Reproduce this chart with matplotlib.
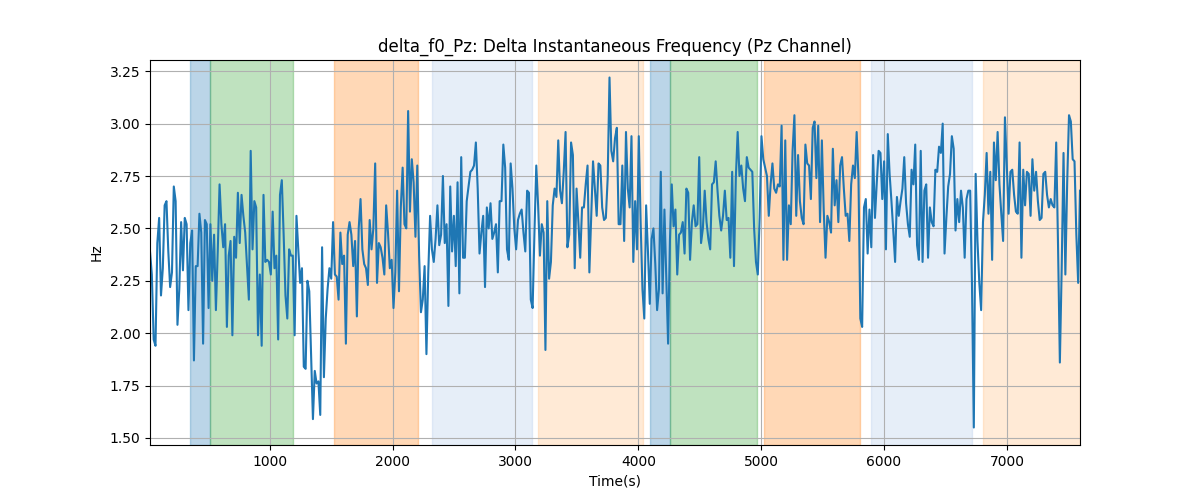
import matplotlib.pyplot as plt
import numpy as np

# sampling window of the recording (s)
T_START = 25
T_END = 7595

# delta f0 on Pz, in time order
delta_f0 = [
    # ~25 - 980
    2.39, 2.28, 1.97, 1.94, 2.43, 2.55, 2.18, 2.31, 2.61, 2.63, 2.39, 2.22, 2.29, 2.70, 2.63, 2.04,
    2.21, 2.53, 2.30, 2.55, 2.52, 2.11, 2.43, 2.49, 1.87, 2.32, 2.32, 2.57, 2.48, 1.95, 2.54, 2.52,
    2.12, 2.52, 2.25, 2.47, 2.11, 2.39, 2.71, 2.52, 2.41, 2.52, 2.03, 2.37, 2.44, 1.99, 2.46, 2.36,
    2.67, 2.43, 2.66, 2.56, 2.48, 2.32, 2.16, 2.87, 2.40, 2.63, 2.60, 1.99, 2.28, 1.94, 2.66, 2.34,
    # ~980 - 1960
    2.35, 2.34, 2.28, 2.58, 2.31, 2.37, 1.97, 2.66, 2.73, 2.47, 2.18, 2.07, 2.40, 2.37, 2.37, 1.99,
    2.56, 2.40, 2.24, 2.31, 1.84, 1.83, 2.25, 2.20, 1.89, 1.59, 1.82, 1.76, 1.77, 1.61, 2.41, 1.79,
    2.07, 2.21, 2.31, 2.26, 2.53, 2.28, 2.27, 2.16, 2.48, 2.33, 2.37, 1.95, 2.47, 2.53, 2.47, 2.32,
    2.44, 2.08, 2.50, 2.64, 2.40, 2.33, 2.31, 2.23, 2.54, 2.40, 2.50, 2.81, 2.24, 2.43, 2.41, 2.36,
    2.28,
    # ~1960 - 2940
    2.61, 2.48, 2.31, 2.35, 2.12, 2.29, 2.68, 2.20, 2.60, 2.79, 2.52, 2.50, 3.06, 2.58, 2.83, 2.72,
    2.46, 2.80, 2.37, 2.10, 2.16, 2.32, 1.90, 2.29, 2.56, 2.40, 2.34, 2.45, 2.61, 2.42, 2.47, 2.75,
    2.43, 2.52, 2.13, 2.70, 2.39, 2.56, 2.32, 2.72, 2.19, 2.84, 2.36, 2.36, 2.63, 2.70, 2.77, 2.78,
    2.80, 2.91, 2.69, 2.38, 2.48, 2.56, 2.22, 2.60, 2.50, 2.62, 2.45, 2.48, 2.52, 2.29, 2.63, 2.63,
    2.90,
    # ~2940 - 3900
    2.79, 2.40, 2.35, 2.81, 2.69, 2.50, 2.40, 2.54, 2.57, 2.59, 2.48, 2.39, 2.68, 2.67, 2.16, 2.12,
    2.48, 2.80, 2.61, 2.37, 2.52, 2.48, 1.92, 2.63, 2.26, 2.34, 2.61, 2.69, 2.65, 2.92, 2.68, 2.62,
    2.77, 2.96, 2.41, 2.47, 2.91, 2.85, 2.31, 2.69, 2.53, 2.36, 2.60, 2.60, 2.71, 2.80, 2.29, 2.56,
    2.82, 2.69, 2.56, 2.81, 2.80, 2.60, 2.54, 2.55, 2.74, 3.22, 2.87, 2.82, 2.93, 2.98, 2.52, 2.52,
    # ~3900 - 4870
    2.80, 2.44, 2.96, 2.69, 2.60, 2.94, 2.34, 2.63, 2.40, 2.94, 2.53, 2.21, 2.07, 2.61, 2.39, 2.14,
    2.45, 2.50, 2.33, 2.11, 2.21, 2.77, 2.19, 2.59, 2.27, 1.95, 2.44, 2.71, 2.51, 2.59, 2.28, 2.47,
    2.48, 2.53, 2.38, 2.69, 2.67, 2.35, 2.53, 2.61, 2.51, 2.52, 2.84, 2.43, 2.50, 2.68, 2.53, 2.45,
    2.40, 2.71, 2.72, 2.82, 2.68, 2.56, 2.49, 2.56, 2.68, 2.54, 2.55, 2.36, 2.77, 2.32, 2.74, 2.96,
    # ~4870 - 5850
    2.75, 2.80, 2.69, 2.63, 2.84, 2.79, 2.78, 2.77, 2.50, 2.34, 2.28, 2.55, 2.94, 2.83, 2.79, 2.75,
    2.56, 2.71, 2.81, 2.69, 2.67, 2.71, 2.70, 2.99, 2.35, 2.92, 2.35, 2.61, 2.52, 2.87, 3.04, 2.56,
    2.85, 2.63, 2.55, 2.52, 2.90, 2.81, 2.80, 2.64, 2.98, 3.01, 2.74, 2.99, 2.53, 2.92, 2.59, 2.36,
    2.56, 2.53, 2.48, 2.88, 2.61, 2.73, 2.53, 2.80, 2.84, 2.69, 2.56, 2.57, 2.44, 2.71, 2.80, 2.74,
    2.96,
    # ~5850 - 6830
    2.74, 2.07, 2.03, 2.60, 2.64, 2.38, 2.59, 2.41, 2.85, 2.55, 2.72, 2.87, 2.86, 2.64, 2.82, 2.40,
    2.95, 2.76, 2.63, 2.49, 2.34, 2.65, 2.56, 2.63, 2.69, 2.84, 2.62, 2.52, 2.46, 2.78, 2.71, 2.90,
    2.42, 2.35, 2.87, 2.34, 2.68, 2.71, 2.36, 2.60, 2.53, 2.51, 2.78, 2.77, 2.89, 2.86, 3.00, 2.38,
    2.55, 2.70, 2.76, 2.94, 2.88, 2.49, 2.64, 2.53, 2.68, 2.60, 2.36, 2.64, 2.68, 2.68, 2.23, 1.55,
    2.76,
    # ~6830 - 7595
    2.44, 2.24, 2.11, 2.53, 2.66, 2.86, 2.57, 2.77, 2.35, 2.91, 2.73, 2.96, 2.71, 2.57, 2.44, 3.03,
    2.80, 2.57, 2.77, 2.78, 2.66, 2.58, 2.57, 2.91, 2.36, 2.78, 2.61, 2.77, 2.76, 2.56, 2.83, 2.68,
    2.77, 2.63, 2.54, 2.55, 2.76, 2.77, 2.66, 2.60, 2.64, 2.61, 2.60, 2.91, 2.42, 1.86, 2.31, 2.86,
    2.28, 2.72, 3.04, 3.01, 2.83, 2.82, 2.47, 2.24, 2.68,
]

# labelled segments (start, end) and their colours
seg_starts = [349, 512, 1521, 2319, 3182, 4094, 4257, 5022, 5893, 6805]
seg_ends = [512, 1190, 2208, 3133, 4036, 4257, 4962, 5806, 6718, 7595]
seg_colors = ['tab:blue', 'tab:green', 'tab:orange', '#aec7e8', '#ffbb78',
              'tab:blue', 'tab:green', 'tab:orange', '#aec7e8', '#ffbb78']

t = np.linspace(T_START, T_END, len(delta_f0))

fig, ax = plt.subplots(figsize=(12, 5), dpi=100)

for s, e, c in zip(seg_starts, seg_ends, seg_colors):
    ax.axvspan(s, e, color=c, alpha=0.3)

ax.plot(t, delta_f0, color='tab:blue', linewidth=1.5)

ax.set_xlim(t[0], t[-1])
ax.set_title('delta_f0_Pz: Delta Instantaneous Frequency (Pz Channel)')
ax.set_xlabel('Time(s)')
ax.set_ylabel('Hz')
ax.grid(True)

plt.savefig('out.png', dpi=100)
plt.close()
